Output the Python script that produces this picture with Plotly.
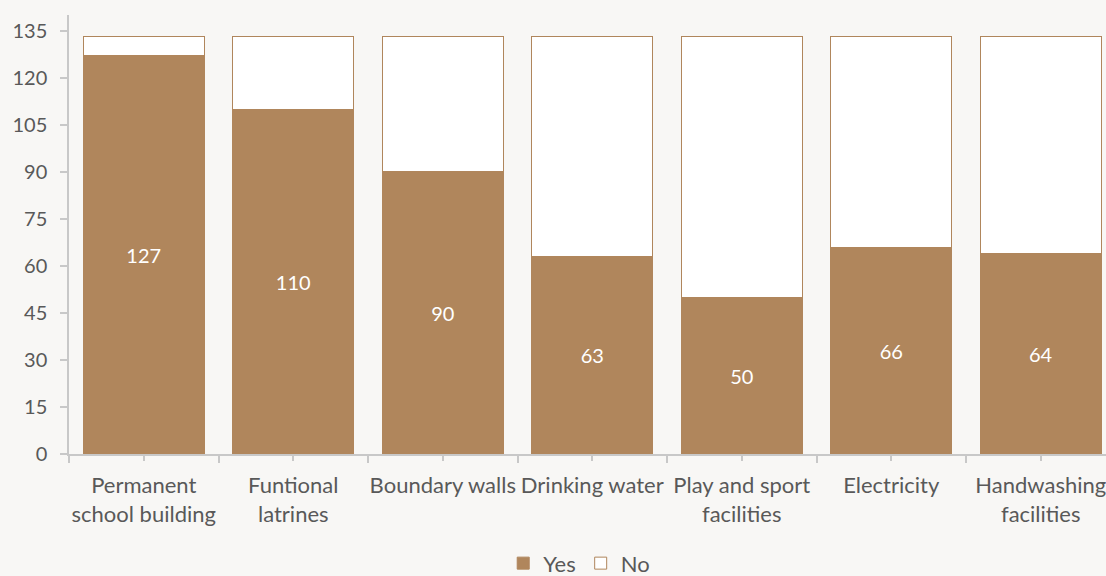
import plotly.graph_objects as go

# School facilities survey: number of schools with / without each facility
categories = [
    "Permanent<br>school building",
    "Funtional<br>latrines",
    "Boundary walls",
    "Drinking water",
    "Play and sport<br>facilities",
    "Electricity",
    "Handwashing<br>facilities",
]
yes_counts = [127, 110, 90, 63, 50, 66, 64]
no_counts = [6, 23, 43, 70, 83, 67, 69]
y_ticks = [0, 15, 30, 45, 60, 75, 90, 105, 120, 135]

BROWN = "#B0865C"
GREY_TEXT = "#595959"
AXIS = "#C8C8C8"
BG = "#F8F7F5"
FONT = "Lato"

x_pos = list(range(len(categories)))

fig = go.Figure()
fig.add_trace(go.Bar(
    name="Yes", x=x_pos, y=yes_counts,
    marker=dict(color=BROWN, line=dict(color=BROWN, width=1)),
    text=[str(v) for v in yes_counts], textposition="inside",
    insidetextanchor="middle", textangle=0,
    textfont=dict(color="white", size=20, family=FONT),
    width=0.81,
))
fig.add_trace(go.Bar(
    name="No", x=x_pos, y=no_counts,
    marker=dict(color="white", line=dict(color=BROWN, width=1)),
    width=0.81,
))

band_px = 149.5
plot_w = 1106 - 69
fig.update_layout(
    barmode="stack",
    width=1106, height=576,
    margin=dict(l=69, r=0, t=15, b=122, autoexpand=False),
    paper_bgcolor=BG, plot_bgcolor=BG,
    font=dict(family=FONT, color=GREY_TEXT, size=20),
    showlegend=True,
    legend=dict(
        orientation="h", x=0.492, xanchor="center",
        yref="container", y=0.022, yanchor="middle",
        font=dict(size=22, color=GREY_TEXT, family=FONT),
        itemwidth=30, traceorder="normal",
    ),
    xaxis=dict(
        range=[-0.5, -0.5 + plot_w / band_px],
        tickvals=x_pos, ticktext=categories,
        ticks="outside", ticklen=5, tickcolor=AXIS, tickwidth=1.5,
        ticklabelstandoff=6, automargin=False, ticklabeloverflow="allow",
        showline=True, linecolor=AXIS, linewidth=1.5,
        showgrid=False, zeroline=False,
        tickfont=dict(size=22, color=GREY_TEXT, family=FONT),
        minor=dict(tickvals=[p + 0.5 for p in [-1] + x_pos], ticks="outside",
                   ticklen=7, tickcolor=AXIS, tickwidth=1.5, showgrid=False),
    ),
    yaxis=dict(
        range=[0, 140],
        tickvals=y_ticks,
        ticks="outside", ticklen=7, tickcolor=AXIS, tickwidth=1.5,
        ticklabelstandoff=9, automargin=False,
        showline=True, linecolor=AXIS, linewidth=1.5,
        showgrid=False, zeroline=False,
        tickfont=dict(size=20, color=GREY_TEXT, family=FONT),
    ),
)

fig.write_html("out.html")
